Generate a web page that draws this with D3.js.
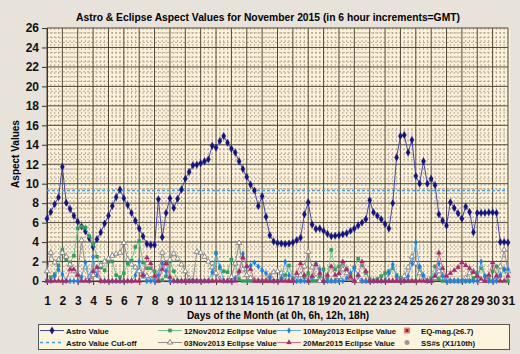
<!DOCTYPE html>
<html>
<head>
<meta charset="utf-8">
<script src="https://cdn.jsdelivr.net/npm/d3@7"></script>
<style>
  body { margin: 0; background: #e7e3db; }
  svg { display: block; font-family: "Liberation Sans", Arial, sans-serif; }
</style>
</head>
<body>
<div id="chart"></div>
<script>
/*---------------- data : one value every 6 hours, Nov 1 0h -> Nov 31 0h ----------------*/

var days = d3.range(1, 32);
var yTicks = d3.range(0, 27, 2);
var cutOff = 9.3;

var astro = [
  6.4, 7.1, 7.9, 8.6,   11.75, 8.05, 7.4, 6.7,   6.1, 5.6, 5.1, 4.4,   3.5, 4.3, 5.0, 5.9,
  6.7, 7.7, 8.6, 9.4,   8.5, 7.8, 7.0, 6.2,      5.4, 4.6, 3.8, 3.7,   3.7, 8.4, 4.5, 7.0,
  8.5, 7.5, 8.45, 9.4,  10.5, 11.2, 11.9, 11.95, 12.1, 12.3, 12.5, 13.9, 13.7, 14.4, 14.9, 14.2,
  13.6, 13.2, 12.3, 11.5, 10.7, 9.9, 9.3, 7.7,   8.7, 6.6, 4.7, 4.05,  3.9, 3.85, 3.8, 3.85,
  3.95, 4.2, 4.45, 6.85, 8.1, 5.8, 5.35, 5.4,    5.15, 4.85, 4.6, 4.65, 4.7, 4.8, 4.9, 5.15,
  5.4, 5.7, 6.0, 6.35,  8.3, 7.05, 6.7, 6.35,    5.85, 5.4, 8.0, 12.7, 14.9, 15.0, 13.2, 14.5,
  10.8, 10.0, 12.3, 10.0, 10.5, 9.85, 6.85, 6.2, 5.7, 8.1, 7.5, 6.95, 6.4, 7.65, 7.1, 5.0,
  7.0, 7.0, 7.0, 7.05,  7.05, 7.0, 4.0, 4.0,     3.95
];

var nov2012 = [
  0.0, 0.4, 0.7, 1.6,  3.2, 2.2, 1.9, 2.6,  5.4, 5.6, 5.5, 4.6,  3.8, 2.5, 1.4, 1.1,
  2.0, 2.0, 0.6, 0.4,  0.8, 1.8, 2.1, 3.5,  4.1, 1.9, 1.3, 1.3,  1.0, 0.0, 0.1, 0.5,
  2.0, 1.0, 0.0, 0.0,  0.0, 0.0, 0.0, 0.0,  0.0, 0.0, 0.0, 0.0,  2.9, 1.3, 1.0, 0.9,
  2.2, 1.8, 0.2, 0.0,  0.0, 0.0, 0.0, 0.0,  0.0, 0.0, 0.0, 0.0,  0.0, 0.2, 0.6, 1.6,
  0.3, 0.0, 0.0, 0.4,  0.8, 0.0, 0.0, 0.5,  1.2, 0.3, 3.2, 1.2,  1.5, 1.8, 1.2, 0.6,
  1.4, 2.3, 1.6, 0.8,  0.2, 0.0, 0.2, 0.5,  0.8, 1.0, 1.3, 0.6,  0.3, 0.0, 0.0, 0.0,
  0.0, 1.4, 0.4, 0.0,  0.3, 1.5, 0.2, 0.0,  0.0, 0.0, 0.0, 0.0,  0.0, 0.0, 0.0, 0.3,
  0.8, 1.3, 0.5, 0.2,  1.0, 1.5, 0.5, 1.2,  0.0
];

var nov2013 = [
  1.0, 2.9, 1.9, 2.2,  2.9, 2.5, 1.7, 1.0,  0.7, 4.2, 1.4, 0.4,  0.6, 1.1, 1.6, 2.0,
  2.3, 2.6, 2.8, 2.9,  3.9, 2.2, 1.7, 1.4,  1.0, 0.7, 0.5, 0.2,  0.1, 0.8, 2.9, 1.8,
  2.2, 2.8, 2.3, 1.7,  1.0, 0.3, 0.0, 3.0,  2.9, 2.5, 2.0, 1.4,  0.8, 0.2, 0.0, 0.0,
  0.4, 1.8, 3.9, 1.2,  0.6, 0.3, 0.1, 0.0,  0.0, 0.0, 0.5, 0.9,  1.0, 0.8, 0.2, 0.0,
  0.0, 0.2, 0.6, 1.5,  3.0, 1.4, 0.3, 0.0,  0.0, 0.0, 0.0, 0.0,  0.4, 1.2, 0.8, 0.3,
  0.0, 0.0, 0.0, 0.0,  0.0, 0.0, 0.0, 0.0,  0.0, 0.0, 0.0, 0.0,  0.0, 0.5, 1.4, 2.5,
  1.8, 0.8, 0.2, 0.0,  0.0, 0.3, 1.0, 0.6,  0.2, 0.0, 0.0, 0.0,  0.0, 0.3, 0.8, 1.0,
  0.5, 0.0, 0.0, 0.0,  0.0, 0.4, 1.5, 3.2,  1.0
];

var may2013 = [
  0.0, 0.0, 0.5, 1.2,  0.7, 0.0, 0.0, 0.0,  0.0, 0.4, 1.9, 0.0,  2.5, 0.6, 0.0, 0.0,
  0.0, 0.0, 0.0, 0.0,  0.0, 0.0, 0.0, 0.6,  2.0, 0.5, 0.0, 0.0,  0.0, 0.6, 1.8, 1.0,
  0.0, 0.0, 0.0, 0.0,  0.0, 0.0, 0.0, 0.0,  0.0, 0.0, 0.0, 0.9,  2.8, 1.5, 0.0, 0.0,
  0.0, 0.3, 0.9, 2.8,  1.5, 1.6, 1.9, 1.5,  1.1, 0.8, 0.4, 0.0,  0.0, 0.3, 2.0, 0.6,
  0.2, 0.0, 0.0, 0.0,  0.0, 0.4, 1.8, 1.2,  0.0, 0.0, 0.0, 0.0,  0.0, 0.0, 0.3, 0.8,
  1.3, 0.6, 0.0, 0.0,  0.0, 0.0, 0.0, 0.0,  0.0, 0.8, 1.7, 0.4,  0.0, 0.0, 0.5, 1.8,
  3.95, 1.5, 0.6, 0.0, 0.0, 0.6, 1.8, 0.5,  0.0, 0.0, 0.0, 0.0,  0.0, 0.0, 0.0, 0.0,
  0.0, 2.0, 0.5, 0.0,  0.0, 0.0, 0.6, 1.2,  1.2
];

var mar2015 = [
  0.0, 0.0, 0.0, 0.0,  0.0, 0.0, 1.2, 1.2,  0.6, 0.0, 0.0, 0.0,  1.0, 1.4, 0.0, 0.0,
  0.0, 0.0, 0.0, 0.0,  0.0, 0.0, 0.0, 0.0,  0.0, 0.6, 2.4, 1.8,  0.5, 0.0, 1.2, 1.8,
  0.4, 0.0, 0.0, 0.0,  0.0, 0.0, 0.0, 0.0,  0.0, 0.0, 0.0, 0.0,  0.0, 0.0, 0.0, 0.0,
  0.0, 0.0, 1.0, 2.4,  1.5, 1.2, 0.0, 0.0,  0.0, 0.0, 0.0, 0.0,  0.0, 0.0, 0.0, 0.0,
  0.0, 0.8, 1.8, 0.6,  0.0, 0.5, 1.7, 0.8,  0.0, 0.6, 1.5, 0.6,  0.8, 2.0, 1.2, 0.4,
  0.0, 0.6, 2.0, 1.0,  0.0, 0.0, 0.0, 0.0,  0.0, 0.0, 0.0, 0.0,  0.0, 0.0, 0.0, 0.0,
  0.0, 0.0, 0.0, 0.0,  0.0, 0.5, 2.9, 1.3,  0.5, 0.8, 1.1, 1.4,  1.9, 1.6, 1.3, 0.9,
  0.5, 0.2, 0.0, 0.6,  1.9, 0.5, 0.0, 0.0,  0.5
];

var series = [
  { name: "Astro Value",             values: astro,   line: "#4646ac", mark: "#14147e", shape: d3.symbolDiamond,  size: 16, open: false },
  { name: "12Nov2012 Eclipse Value", values: nov2012, line: "#6cc58e", mark: "#2f9e5c", shape: d3.symbolSquare,   size: 11, open: false },
  { name: "03Nov2013 Eclipse Value", values: nov2013, line: "#8c8c8c", mark: "#6e6e6e", shape: d3.symbolTriangle, size: 12, open: true },
  { name: "10May2013 Eclipse Value", values: may2013, line: "#58a8ec", mark: "#1a7fe0", shape: d3.symbolDiamond,  size: 10, open: false },
  { name: "20Mar2015 Eclipse Value", values: mar2015, line: "#cc6f9c", mark: "#a8286a", shape: d3.symbolTriangle, size: 11, open: false }
];

/*---------------- layout ----------------*/

var W = 520, H = 354;
var plot = { left: 47, right: 508, top: 28, bottom: 281 };

var svg = d3.select("#chart").append("svg")
    .attr("width", W)
    .attr("height", H);

var xScale = d3.scaleLinear().domain([1, 31]).range([plot.left, plot.right]);
var yScale = d3.scaleLinear().domain([0, 26]).range([plot.bottom, plot.top]);

function dayOf(i) { return 1 + i / 4; }

// plot background
svg.append("rect")
    .attr("x", plot.left)
    .attr("y", plot.top)
    .attr("width", plot.right - plot.left + 2)
    .attr("height", plot.bottom - plot.top)
    .style("fill", "#fcf2da");

// minor grid (6 hours / 0.5 unit)
var grid = svg.append("g");
grid.selectAll(".vminor")
    .data(d3.range(1, 31, 0.25).filter(d => d % 1 !== 0))
    .enter().append("line")
    .attr("x1", d => xScale(d)).attr("x2", d => xScale(d))
    .attr("y1", plot.top).attr("y2", plot.bottom)
    .style("stroke", "#968b7b").style("stroke-width", 0.7)
    .style("stroke-dasharray", "2,2");

grid.selectAll(".hminor")
    .data(d3.range(0.5, 26, 0.5).filter(d => d % 2 !== 0))
    .enter().append("line")
    .attr("x1", plot.left).attr("x2", plot.right)
    .attr("y1", d => yScale(d)).attr("y2", d => yScale(d))
    .style("stroke", "#968b7b").style("stroke-width", 0.7)
    .style("stroke-dasharray", "2,2");

// major grid
grid.selectAll(".vmajor")
    .data(days)
    .enter().append("line")
    .attr("x1", d => xScale(d)).attr("x2", d => xScale(d))
    .attr("y1", plot.top).attr("y2", plot.bottom)
    .style("stroke", "#4e4535").style("stroke-width", 1);

grid.selectAll(".hmajor")
    .data(yTicks)
    .enter().append("line")
    .attr("x1", plot.left).attr("x2", plot.right)
    .attr("y1", d => yScale(d)).attr("y2", d => yScale(d))
    .style("stroke", "#4e4535").style("stroke-width", 1);

// axes
svg.append("g")
    .attr("transform", "translate(" + plot.left + ",0)")
    .call(d3.axisLeft(yScale).tickValues(yTicks).tickSize(5).tickPadding(3));

svg.append("g")
    .attr("transform", "translate(0," + plot.bottom + ")")
    .call(d3.axisBottom(xScale).tickValues(days).tickSize(4).tickPadding(11).tickFormat(d3.format("d")));

svg.selectAll(".domain").style("stroke", "#3a3428");
svg.selectAll(".tick line").style("stroke", "#3a3428");
svg.selectAll(".tick text")
    .style("font-family", "'Liberation Sans', Arial, sans-serif")
    .style("font-size", "12px")
    .style("font-weight", "bold")
    .style("fill", "#111");

// cut-off line
svg.append("line")
    .attr("x1", plot.left).attr("x2", plot.right)
    .attr("y1", yScale(cutOff)).attr("y2", yScale(cutOff))
    .style("stroke", "#3d9bf0").style("stroke-width", 1.6)
    .style("stroke-dasharray", "3,2");

// series
var line = d3.line()
    .x((d, i) => xScale(dayOf(i)))
    .y(d => yScale(d));

series.forEach(function(s) {
    var g = svg.append("g");
    g.append("path")
        .attr("d", line(s.values))
        .style("fill", "none")
        .style("stroke", s.line)
        .style("stroke-width", 1);
    g.selectAll("path.mark")
        .data(s.values)
        .enter().append("path")
        .attr("class", "mark")
        .attr("transform", (d, i) => "translate(" + xScale(dayOf(i)) + "," + yScale(d) + ")")
        .attr("d", d3.symbol().type(s.shape).size(s.size))
        .style("fill", s.open ? "#ffffff" : s.mark)
        .style("stroke", s.mark)
        .style("stroke-width", s.open ? 0.8 : 0.3);
});

// titles
svg.append("text")
    .attr("x", 268).attr("y", 21)
    .style("text-anchor", "middle")
    .style("font-size", "10.3px").style("font-weight", "bold")
    .text("Astro & Eclipse Aspect Values for November 2015 (in 6 hour increments=GMT)");

svg.append("text")
    .attr("transform", "translate(19,154) rotate(-90)")
    .style("text-anchor", "middle")
    .style("font-size", "10px").style("font-weight", "bold")
    .text("Aspect Values");

svg.append("text")
    .attr("x", 278).attr("y", 319)
    .style("text-anchor", "middle")
    .style("font-size", "10px").style("font-weight", "bold")
    .text("Days of the Month (at 0h, 6h, 12h, 18h)");

/*---------------- legend ----------------*/

var legend = svg.append("g");
legend.append("rect")
    .attr("x", 38.5).attr("y", 324.5)
    .attr("width", 471).attr("height", 25)
    .style("fill", "#fdf4dd").style("stroke", "#555").style("stroke-width", 1);

var legendItems = [
  { name: "Astro Value",             col: 0, row: 0, kind: "series", s: series[0] },
  { name: "Astro Value Cut-off",     col: 0, row: 1, kind: "cut" },
  { name: "12Nov2012 Eclipse Value", col: 1, row: 0, kind: "series", s: series[1] },
  { name: "03Nov2013 Eclipse Value", col: 1, row: 1, kind: "series", s: series[2] },
  { name: "10May2013 Eclipse Value", col: 2, row: 0, kind: "series", s: series[3] },
  { name: "20Mar2015 Eclipse Value", col: 2, row: 1, kind: "series", s: series[4] },
  { name: "EQ-mag.(\u22656.7)",      col: 3, row: 0, kind: "eq" },
  { name: "SS#s (X1/10th)",          col: 3, row: 1, kind: "ss" }
];
var colX = [40, 158, 277, 403];

legendItems.forEach(function(it) {
    var x0 = colX[it.col], y0 = 330.5 + it.row * 12;
    var g = legend.append("g");
    if (it.kind === "series") {
        g.append("line").attr("x1", x0).attr("x2", x0 + 24).attr("y1", y0).attr("y2", y0)
            .style("stroke", it.s.line).style("stroke-width", 1);
        g.append("path").attr("transform", "translate(" + (x0 + 12) + "," + y0 + ")")
            .attr("d", d3.symbol().type(it.s.shape).size(it.s.size))
            .style("fill", it.s.open ? "#fff" : it.s.mark).style("stroke", it.s.mark)
            .style("stroke-width", it.s.open ? 0.8 : 0.3);
    } else if (it.kind === "cut") {
        g.append("line").attr("x1", x0).attr("x2", x0 + 24).attr("y1", y0).attr("y2", y0)
            .style("stroke", "#3d9bf0").style("stroke-width", 1.4).style("stroke-dasharray", "3,3");
    } else if (it.kind === "eq") {
        g.append("rect").attr("x", x0 + 1).attr("y", y0 - 3).attr("width", 6).attr("height", 6)
            .style("fill", "#f08080");
        g.append("path")
            .attr("d", d3.symbol().type(d3.symbolCross).size(8))
            .attr("transform", "translate(" + (x0 + 4) + "," + y0 + ") rotate(45)")
            .style("fill", "#802020");
    } else {
        g.append("circle").attr("cx", x0 + 4).attr("cy", y0).attr("r", 2.5)
            .style("fill", "#999");
    }
    var tx = it.kind === "eq" || it.kind === "ss" ? x0 + 18 : x0 + 26;
    g.append("text")
        .attr("x", tx).attr("y", y0 + 3)
        .style("font-size", "7.8px").style("font-weight", "bold").style("fill", "#111")
        .text(it.name);
});
</script>
</body>
</html>
